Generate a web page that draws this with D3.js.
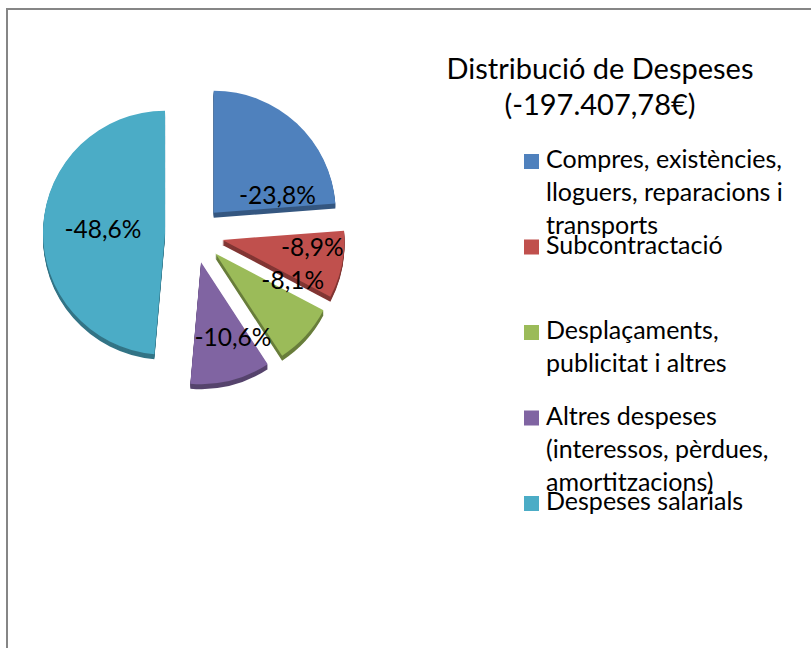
<!DOCTYPE html>
<html>
<head>
<meta charset="utf-8">
<script src="https://cdn.jsdelivr.net/npm/d3@7"></script>
<style>
	body{ margin:0; background:#fff; }
	svg text{ font-family:Lato, "Open Sans", sans-serif; fill:#000; }
</style>
</head>
<body>
<div id="container"></div>
<script>
// chart values
var categories = [
	['Compres, existències,','lloguers, reparacions i','transports'],
	['Subcontractació'],
	['Desplaçaments,','publicitat i altres'],
	['Altres despeses','(interessos, pèrdues,','amortitzacions)'],
	['Despeses salarials']
];
var shares = [-23.8, -8.9, -8.1, -10.6, -48.6];
var labels = ['-23,8%','-8,9%','-8,1%','-10,6%','-48,6%'];
var titleLines = ['Distribució de Despeses','(-197.407,78€)'];

var colors = ['#4F81BD','#C0504D','#9BBB59','#8064A2','#4BACC6'];

// where excel dropped each label: [angle in deg, distance as part of radius]
var labelPlace = [[75,0.54],[95,0.74],[109,0.67],[157,0.67],[273,0.51]];

var init = function(){

	return {

		w:811,
		h:648,

		generate:function(){
			var self = vis;

			var cx = 194, cy = 234,
				r = 122,
				explode = 29,
				depth = 5;

			self.svg = d3.select('#container').append('svg')
				.attr('width',self.w)
				.attr('height',self.h);

			// frame
			self.svg.append('path')
				.attr('d','M7,648 L7,9 L811,9')
				.style('fill','none')
				.style('stroke','#868686')
				.style('stroke-width',2);

			var pie = d3.pie()
				.sort(null)
				.value(function(d){ return Math.abs(d); });
			var arcs = pie(shares);

			var arc = d3.arc()
				.innerRadius(0)
				.outerRadius(r);

			var offset = function(d){
				var a = (d.startAngle +d.endAngle)/2;
				return [Math.sin(a)*explode, -Math.cos(a)*explode];
			};

			var g = self.svg.append('g')
				.attr('transform','translate(' +cx +',' +cy +')');

			// side walls first
			arcs.forEach(function(d,i){
				var o = offset(d);
				var dark = d3.color(colors[i]).darker(1.1);
				for(var k=depth; k>0; k--){
					g.append('path')
						.attr('d',arc(d))
						.attr('transform','translate(' +o[0] +',' +(o[1]+k) +')')
						.style('fill',dark);
				}
			});

			var slices = g.selectAll('path.slice')
				.data(arcs);
			slices.enter().append('path')
				.classed('slice',true)
				.attr('d',arc)
				.attr('transform',function(d){
					var o = offset(d);
					return 'translate(' +o[0] +',' +o[1] +')';
				})
				.style('fill',function(d,i){ return colors[i]; });

			g.selectAll('text.lbl')
				.data(arcs)
				.enter().append('text')
				.classed('lbl',true)
				.attr('x',function(d,i){
					var a = labelPlace[i][0]*Math.PI/180;
					return offset(d)[0] +Math.sin(a)*labelPlace[i][1]*r;
				})
				.attr('y',function(d,i){
					var a = labelPlace[i][0]*Math.PI/180;
					return offset(d)[1] -Math.cos(a)*labelPlace[i][1]*r;
				})
				.attr('dy','0.35em')
				.attr('text-anchor','middle')
				.style('font-size','24.5px')
				.text(function(d,i){ return labels[i]; });

			// title
			self.svg.selectAll('text.title')
				.data(titleLines)
				.enter().append('text')
				.classed('title',true)
				.attr('x',600)
				.attr('y',function(d,i){ return 79 +i*36; })
				.attr('text-anchor','middle')
				.style('font-size','29px')
				.text(function(d){ return d; });

			// legend
			var legend = self.svg.selectAll('g.legend')
				.data(categories)
				.enter().append('g')
				.classed('legend',true)
				.attr('transform',function(d,i){
					return 'translate(524,' +(154 +i*85.5) +')';
				});
			legend.append('rect')
				.attr('width',15)
				.attr('height',15)
				.style('fill',function(d,i){ return colors[i]; });
			legend.append('text')
				.style('font-size','25px')
				.selectAll('tspan')
				.data(function(d){ return d; })
				.enter().append('tspan')
				.attr('x',22)
				.attr('y',function(d,i){ return 14 +i*33; })
				.text(function(d){ return d; });
		}
	}
}

var vis = init();
vis.generate();
</script>
</body>
</html>
